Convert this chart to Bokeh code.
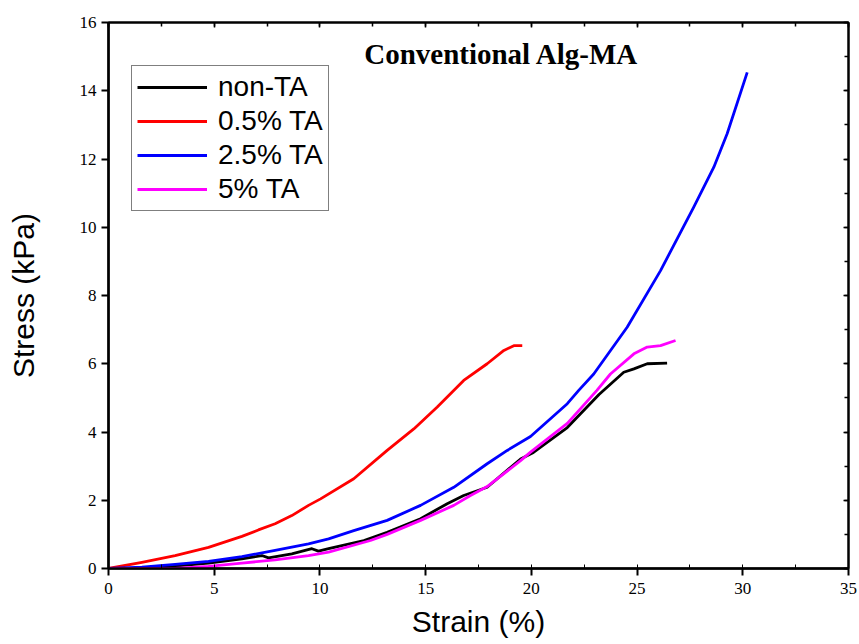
from bokeh.plotting import figure
from bokeh.models import (Range1d, LinearAxis, Legend, LegendItem, Label,
                          SingleIntervalTicker, CustomJSTickFormatter)
from bokeh.embed import file_html
from bokeh.resources import INLINE

# ---- data ----
nonta_x = [0, 1.58, 3.15, 4.73, 6.31, 7.25, 7.57, 8.67, 9.62, 9.93, 10.41, 12.08, 13.18, 14.76, 16.02, 16.8,
           17.91, 19.49, 20.1, 21.7, 23.2, 24.37, 24.85, 25.48, 26.42]
nonta_y = [0, 0.01, 0.07, 0.16, 0.28, 0.38, 0.31, 0.43, 0.58, 0.51, 0.58, 0.82, 1.06, 1.46, 1.90, 2.14,
           2.38, 3.21, 3.40, 4.13, 5.10, 5.75, 5.85, 6.0, 6.02]

ta05_x = [0, 1.58, 3.15, 4.73, 6.31, 7.09, 7.88, 8.67, 9.46, 10.03, 11.6, 13.18, 14.44, 15.55, 16.8,
          17.91, 18.7, 19.17, 19.57]
ta05_y = [0, 0.18, 0.38, 0.62, 0.94, 1.13, 1.31, 1.55, 1.85, 2.04, 2.63, 3.46, 4.09, 4.73, 5.51,
          6.0, 6.39, 6.53, 6.53]

ta25_x = [0, 1.58, 3.15, 4.73, 6.31, 7.88, 9.46, 10.41, 11.6, 13.18, 14.76, 16.33, 17.91, 18.86, 19.96,
          21.7, 22.24, 22.95, 24.53, 26.11, 27.68, 28.63, 29.26, 30.21]
ta25_y = [0, 0.04, 0.12, 0.21, 0.35, 0.53, 0.72, 0.87, 1.11, 1.41, 1.85, 2.38, 3.07, 3.46, 3.87,
          4.83, 5.22, 5.70, 7.07, 8.73, 10.59, 11.76, 12.74, 14.54]

ta5_x = [0, 3.15, 4.73, 6.31, 7.88, 9.46, 10.41, 12.39, 13.18, 14.76, 16.33, 17.12, 17.91, 19.49, 19.96,
         21.7, 23.1, 23.74, 24.85, 25.48, 26.11, 26.82]
ta5_y = [0, 0.0, 0.06, 0.16, 0.25, 0.38, 0.48, 0.82, 1.00, 1.41, 1.85, 2.14, 2.40, 3.16, 3.41,
         4.25, 5.22, 5.70, 6.29, 6.49, 6.53, 6.68]

series_names = ["non-TA", "0.5% TA", "2.5% TA", "5% TA"]
series_colors = ["black", "#ff0000", "#0000ff", "#ff00ff"]

title_text = "Conventional Alg-MA"
x_label = "Strain (%)"
y_label = "Stress (kPa)"

p = figure(width=859, height=644, output_backend="svg", toolbar_location=None,
           x_range=Range1d(0, 35), y_range=Range1d(0, 16),
           min_border_left=108, min_border_right=11, min_border_top=22, min_border_bottom=76)
p.grid.visible = False
p.outline_line_color = "black"
p.outline_line_width = 2
p.background_fill_color = "white"
p.border_fill_color = "white"

for ax in (p.xaxis[0], p.yaxis[0]):
    ax.axis_line_width = 2.5
    ax.major_tick_line_width = 2
    ax.major_tick_out = 7
    ax.major_tick_in = 0
    ax.major_label_text_font = "Liberation Serif"
    ax.major_label_text_font_size = "17px"
    ax.major_label_text_color = "black"
    ax.axis_label_text_font = "Liberation Sans"
    ax.axis_label_text_font_size = "30px"
    ax.axis_label_text_font_style = "normal"
    ax.axis_label_text_color = "black"

p.xaxis[0].ticker = SingleIntervalTicker(interval=5, num_minor_ticks=2)
p.yaxis[0].ticker = SingleIntervalTicker(interval=2, num_minor_ticks=2)
p.xaxis[0].minor_tick_out = 0
p.xaxis[0].minor_tick_in = 4
p.yaxis[0].minor_tick_out = 0
p.yaxis[0].minor_tick_in = 0
p.xaxis[0].axis_label = x_label
p.yaxis[0].axis_label = y_label
p.xaxis[0].major_label_standoff = 7
p.yaxis[0].major_label_standoff = 5
p.xaxis[0].axis_label_standoff = 8
p.yaxis[0].axis_label_standoff = 37

# mirrored axes with inward ticks and no labels
for loc, interval in (("above", 5), ("right", 2)):
    ax = LinearAxis(ticker=SingleIntervalTicker(interval=interval, num_minor_ticks=2),
                    formatter=CustomJSTickFormatter(code="return ''"))
    ax.major_label_standoff = 0
    ax.axis_line_width = 2
    ax.major_tick_in = 5
    ax.major_tick_out = 0
    ax.minor_tick_in = 4
    ax.minor_tick_out = 0
    ax.major_tick_line_width = 1.5
    ax.minor_tick_line_width = 1.5
    p.add_layout(ax, loc)

xs = [nonta_x, ta05_x, ta25_x, ta5_x]
ys = [nonta_y, ta05_y, ta25_y, ta5_y]
items = []
for name, color, x, y in zip(series_names, series_colors, xs, ys):
    r = p.line(x, y, line_color=color, line_width=2.8, line_join="round")
    items.append(LegendItem(label=name, renderers=[r]))

legend = Legend(items=items, location=(23, 357))
legend.label_text_font = "Liberation Sans"
legend.label_text_font_size = "28px"
legend.label_text_color = "black"
legend.glyph_width = 70
legend.glyph_height = 28
legend.label_height = 28
legend.spacing = 2
legend.padding = 5
legend.margin = 0
legend.label_standoff = 11
legend.border_line_color = "black"
legend.border_line_width = 1
legend.background_fill_alpha = 1
p.add_layout(legend, "center")

title = Label(x=18.59, y=15.09, text=title_text, text_align="center", text_baseline="alphabetic",
              text_font="Liberation Serif", text_font_size="29px", text_font_style="bold",
              text_color="black")
p.add_layout(title)

open("out.html", "w").write(file_html(p, INLINE))
